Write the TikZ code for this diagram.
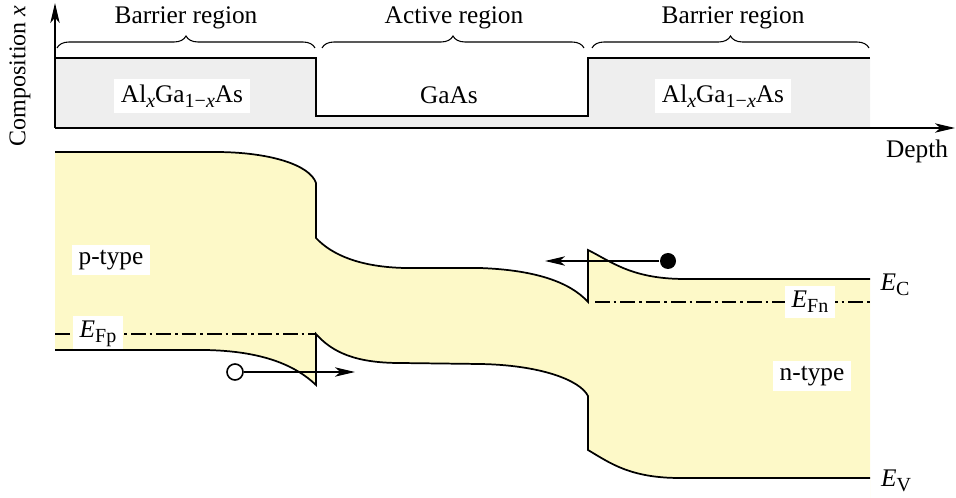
\documentclass[tikz,border=0pt]{standalone}
\usepackage{fontspec}
\setmainfont{Liberation Serif}
\usetikzlibrary{arrows.meta,decorations.pathreplacing}
\definecolor{bandfill}{RGB}{253,249,200}
\definecolor{layerfill}{RGB}{238,238,238}
\newcommand{\lowtxt}[1]{\raisebox{-0.45ex}{\fontsize{15}{15}\selectfont #1}}
\tikzset{
	lbl/.style={fill=white,inner xsep=5pt,inner ysep=4pt},
	fermi/.style={line width=1.2pt,dash pattern=on 11pt off 3pt on 2pt off 3pt},
	brc/.style={line width=0.8pt,decorate,decoration={brace,amplitude=9pt}},
	carrier/.style={circle,inner sep=0pt,minimum size=12pt,line width=1.2pt}
}
\begin{document}
\begin{tikzpicture}[>={Stealth[length=15pt,width=7pt,inset=4pt]},x=0.75pt,y=-0.75pt,line width=1.3pt,font=\fontsize{19}{22}\selectfont]
	\useasboundingbox (0,0) rectangle (956,498);
	% Zusammensetzung x
	\fill[layerfill] (55,58) -- (316,58) -- (316,116) -- (588,116) -- (588,58) -- (870,58) -- (870,128) -- (55,128) -- cycle;
	\draw (55,58) -- (316,58) -- (316,116) -- (588,116) -- (588,58) -- (870,58);
	\draw[->] (55,128) -- (55,3);
	\draw[->] (55,128) -- (955,128);
	\node[rotate=90,font=\fontsize{18}{21}\selectfont] (comp) at (20,76) {Composition \textit{x}};
	\node (depth) at (917,151) {Depth};
	\draw[brc] (57,48) -- (315,48);
	\draw[brc] (322,48) -- (584,48);
	\draw[brc] (592,48) -- (869,48);
	\node (barL) at (186,18) {Barrier region};
	\node (act) at (454,18) {Active region};
	\node (barR) at (733,18) {Barrier region};
	\node[lbl] (alL) at (182,96) {Al\lowtxt{\textit{x}}Ga\lowtxt{1−\textit{x}}As};
	\node (gaas) at (449,95) {GaAs};
	\node[lbl] (alR) at (723,96) {Al\lowtxt{\textit{x}}Ga\lowtxt{1−\textit{x}}As};
	% Baender
	\fill[bandfill] (55,152) -- (215,152) .. controls (270,152) and (310,165) .. (316,183) -- (316,238)
		.. controls (332,255) and (360,267) .. (405,268) -- (480,268)
		.. controls (535,270) and (570,282) .. (588,302) -- (588,250)
		.. controls (612,262) and (632,279) .. (685,279) -- (870,279) -- (870,498) -- (55,498) -- cycle;
	\fill[white] (55,350) -- (205,350) .. controls (262,351) and (295,365) .. (316,385) -- (316,334)
		.. controls (332,352) and (355,363) .. (400,363) -- (480,364)
		.. controls (540,365) and (580,380) .. (588,396) -- (588,450)
		.. controls (610,463) and (630,478) .. (680,478) -- (870,478) -- (870,498) -- (55,498) -- cycle;
	\draw[fermi] (55,334) -- (316,334);
	\draw[fermi] (595,302) -- (870,302);
	\node[lbl] (efp) at (98,334) {\textit{E}\lowtxt{Fp}};
	\node[lbl] (efn) at (810,302) {\textit{E}\lowtxt{Fn}};
	\node (ec) at (895,285) {\textit{E}\lowtxt{C}};
	\node (ev) at (896,481) {\textit{E}\lowtxt{V}};
	\node[lbl] (ptype) at (111,260) {p-type};
	\node[lbl] (ntype) at (812,376) {n-type};
	\draw (55,152) -- (215,152) .. controls (270,152) and (310,165) .. (316,183) -- (316,238)
		.. controls (332,255) and (360,267) .. (405,268) -- (480,268)
		.. controls (535,270) and (570,282) .. (588,302) -- (588,250)
		.. controls (612,262) and (632,279) .. (685,279) -- (870,279);
	\draw (55,350) -- (205,350) .. controls (262,351) and (295,365) .. (316,385) -- (316,334)
		.. controls (332,352) and (355,363) .. (400,363) -- (480,364)
		.. controls (540,365) and (580,380) .. (588,396) -- (588,450)
		.. controls (610,463) and (630,478) .. (680,478) -- (870,478);
	% Ladungstraeger
	\node[carrier,fill] (elec) at (668,261) {};
	\coordinate (elecend) at (545,261);
	\draw[->] (elec) -- (elecend);
	\node[carrier,draw,fill=white] (hole) at (235,372) {};
	\coordinate (holeend) at (355,372);
	\draw[->] (hole) -- (holeend);
\end{tikzpicture}
\end{document}
